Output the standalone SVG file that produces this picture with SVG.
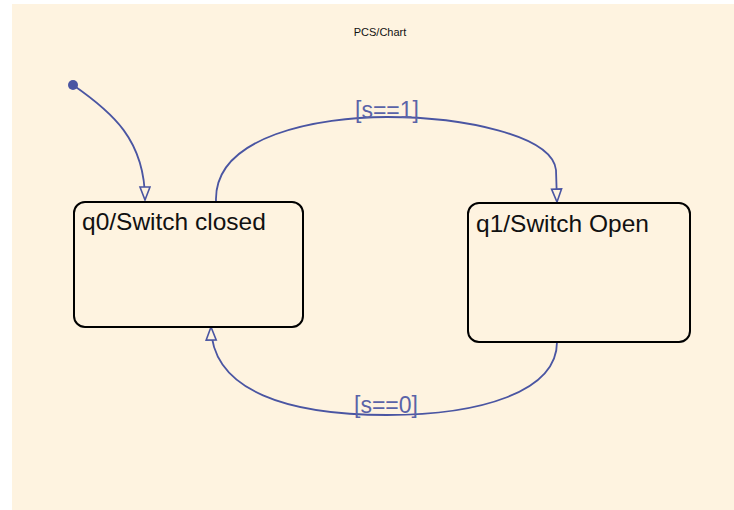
<svg xmlns="http://www.w3.org/2000/svg" width="734" height="510" viewBox="0 0 734 510">
<style>
.state{fill:#FEF3E0;stroke:#000;stroke-width:2}
.stext{font-family:"Liberation Sans",Arial,sans-serif;font-size:24.5px;fill:#111}
.edge{fill:none;stroke:#4A55A2;stroke-width:1.8}
.lbl{font-family:"Liberation Sans",Arial,sans-serif;font-size:23px;fill:#5A63A8;text-anchor:middle}
.title{font-family:"Liberation Sans",Arial,sans-serif;font-size:11px;fill:#111;text-anchor:middle}
</style>
<defs>
<marker id="arr" markerWidth="16" markerHeight="14" refX="14" refY="6" orient="auto" markerUnits="userSpaceOnUse">
<path d="M1,1 L14,6 L1,11 Z" fill="#FEF3E0" stroke="#4A55A2" stroke-width="1.6"/>
</marker>
</defs>
<rect x="12" y="4" width="722" height="506" fill="#FEF3E0"/>
<text class="title" x="380" y="36">PCS/Chart</text>
<g id="connectors">
<circle cx="73" cy="85" r="5" fill="#4A55A2"/>
<path class="edge" d="M73,85 C112,112 145,140 145,200" marker-end="url(#arr)"/>
<path class="edge" d="M216,201 C214,135 320,117 387,117 C462,117 552,135 556,170 L557,202" marker-end="url(#arr)"/>
<path class="edge" d="M557,342 C557,392 480,415 387,415 C290,415 212,392 211,327" marker-end="url(#arr)"/>
<text class="lbl" x="387" y="118">[s==1]</text>
<text class="lbl" x="386" y="413">[s==0]</text>
</g>
<g id="q0">
<rect class="state" x="74" y="202" width="229" height="125" rx="11"/>
<text class="stext" x="82" y="230">q0/Switch closed</text>
</g>
<g id="q1">
<rect class="state" x="468" y="203" width="222" height="139" rx="11"/>
<text class="stext" x="476" y="232">q1/Switch Open</text>
</g>
</svg>
